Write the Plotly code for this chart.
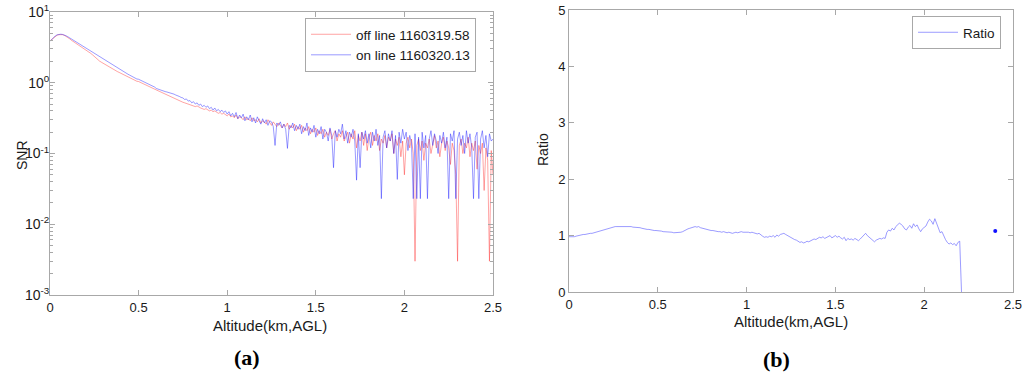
import plotly.graph_objects as go

# ---------------- data ----------------
altitude_km = [round(0.01 * i, 2) for i in range(251)]

snr_off = [
    3.9, 4.1, 4.35, 4.55, 4.7, 4.78, 4.8, 4.78, 4.7, 4.55,
    4.4, 4.2, 4.0, 3.85, 3.7, 3.55, 3.45, 3.35, 3.2, 3.05,
    3.0, 2.85, 2.72, 2.6, 2.48, 2.35, 2.22, 2.1, 2.02, 1.95,
    1.88, 1.82, 1.76, 1.70, 1.64, 1.58, 1.53, 1.49, 1.44, 1.40,
    1.36, 1.32, 1.28, 1.24, 1.20, 1.17, 1.14, 1.11, 1.08, 1.05,
    1.04, 1.01, 0.98, 0.95, 0.92, 0.90, 0.87, 0.85, 0.83, 0.81,
    0.79, 0.77, 0.75, 0.73, 0.71, 0.69, 0.67, 0.65, 0.63, 0.61,
    0.60, 0.58, 0.57, 0.55, 0.54, 0.53, 0.52, 0.51, 0.50, 0.49,
    0.48, 0.47, 0.46, 0.47, 0.45, 0.44, 0.43, 0.42, 0.43, 0.41,
    0.40, 0.41, 0.39, 0.40, 0.38, 0.37, 0.38, 0.36, 0.37, 0.35,
    0.34, 0.36, 0.33, 0.34, 0.32, 0.35, 0.31, 0.33, 0.32, 0.30,
    0.33, 0.30, 0.31, 0.29, 0.32, 0.29, 0.30, 0.28, 0.31, 0.27,
    0.29, 0.28, 0.26, 0.30, 0.27, 0.25, 0.28, 0.26, 0.24, 0.27,
    0.25, 0.23, 0.26, 0.24, 0.27, 0.22, 0.25, 0.23, 0.26, 0.21,
    0.24, 0.22, 0.25, 0.20, 0.23, 0.21, 0.24, 0.19, 0.22, 0.20,
    0.23, 0.18, 0.21, 0.19, 0.22, 0.17, 0.20, 0.18, 0.22, 0.16,
    0.19, 0.21, 0.15, 0.19, 0.17, 0.21, 0.15, 0.18, 0.20, 0.14,
    0.19, 0.16, 0.21, 0.12, 0.18, 0.15, 0.20, 0.13, 0.19, 0.11,
    0.17, 0.20, 0.13, 0.18, 0.15, 0.19, 0.11, 0.16, 0.14, 0.18,
    0.12, 0.17, 0.15, 0.19, 0.10, 0.16, 0.13, 0.17, 0.09, 0.15,
    0.05, 0.14, 0.17, 0.12, 0.16, 0.10, 0.003, 0.13, 0.16, 0.11,
    0.15, 0.08, 0.14, 0.12, 0.16, 0.10, 0.14, 0.18, 0.12, 0.15,
    0.09, 0.14, 0.17, 0.11, 0.15, 0.12, 0.07, 0.14, 0.11, 0.05,
    0.003, 0.13, 0.16, 0.10, 0.14, 0.12, 0.17, 0.09, 0.14, 0.11,
    0.15, 0.06, 0.13, 0.10, 0.14, 0.03, 0.12, 0.08, 0.003, 0.11,
    0.05,
]

snr_on = [
    3.85, 4.1, 4.4, 4.6, 4.75, 4.82, 4.85, 4.82, 4.75, 4.62,
    4.48, 4.32, 4.15, 4.0, 3.85, 3.72, 3.6, 3.48, 3.36, 3.24,
    3.12, 3.0, 2.9, 2.8, 2.7, 2.6, 2.5, 2.4, 2.32, 2.24,
    2.16, 2.08, 2.01, 1.94, 1.87, 1.80, 1.74, 1.68, 1.62, 1.56,
    1.51, 1.46, 1.41, 1.36, 1.32, 1.28, 1.24, 1.20, 1.16, 1.13,
    1.12, 1.09, 1.06, 1.03, 0.99, 0.97, 0.94, 0.91, 0.89, 0.87,
    0.83, 0.81, 0.79, 0.77, 0.76, 0.75, 0.74, 0.73, 0.71, 0.70,
    0.69, 0.67, 0.66, 0.64, 0.62, 0.61, 0.58, 0.59, 0.55, 0.56,
    0.52, 0.54, 0.50, 0.52, 0.48, 0.50, 0.46, 0.48, 0.45, 0.47,
    0.43, 0.45, 0.41, 0.44, 0.40, 0.42, 0.39, 0.41, 0.38, 0.40,
    0.36, 0.39, 0.34, 0.37, 0.33, 0.38, 0.31, 0.35, 0.32, 0.36,
    0.29, 0.33, 0.30, 0.35, 0.28, 0.32, 0.27, 0.33, 0.29, 0.26,
    0.31, 0.27, 0.30, 0.25, 0.29, 0.28, 0.24, 0.13, 0.27, 0.25,
    0.28, 0.23, 0.26, 0.22, 0.118, 0.25, 0.23, 0.27, 0.21, 0.25,
    0.22, 0.26, 0.19, 0.24, 0.21, 0.27, 0.18, 0.23, 0.20, 0.25,
    0.17, 0.22, 0.19, 0.24, 0.16, 0.22, 0.20, 0.15, 0.23, 0.18,
    0.063, 0.21, 0.17, 0.22, 0.19, 0.26, 0.16, 0.21, 0.14, 0.20,
    0.17, 0.22, 0.15, 0.042, 0.19, 0.063, 0.20, 0.16, 0.21, 0.14,
    0.19, 0.12, 0.20, 0.15, 0.22, 0.13, 0.18, 0.023, 0.17, 0.21,
    0.12, 0.19, 0.15, 0.21, 0.10, 0.18, 0.043, 0.20, 0.14, 0.22,
    0.16, 0.20, 0.11, 0.18, 0.14, 0.023, 0.19, 0.023, 0.17, 0.023,
    0.20, 0.12, 0.18, 0.023, 0.16, 0.21, 0.13, 0.19, 0.15, 0.10,
    0.18, 0.14, 0.20, 0.12, 0.17, 0.023, 0.19, 0.15, 0.21, 0.023,
    0.16, 0.20, 0.13, 0.18, 0.10, 0.21, 0.14, 0.19, 0.12, 0.023,
    0.17, 0.20, 0.023, 0.16, 0.21, 0.12, 0.18, 0.09, 0.19, 0.15,
    0.16,
]

ratio = [
    0.98, 0.98, 0.97, 0.98, 0.99, 1.00, 1.01, 1.01, 1.02, 1.02,
    1.03, 1.03, 1.04, 1.04, 1.05, 1.06, 1.07, 1.08, 1.09, 1.10,
    1.11, 1.12, 1.13, 1.14, 1.15, 1.15, 1.16, 1.16, 1.16, 1.16,
    1.17, 1.16, 1.16, 1.17, 1.16, 1.16, 1.15, 1.15, 1.15, 1.14,
    1.14, 1.13, 1.12, 1.12, 1.11, 1.11, 1.10, 1.10, 1.09, 1.09,
    1.09, 1.08, 1.08, 1.07, 1.07, 1.07, 1.06, 1.06, 1.06, 1.05,
    1.05, 1.05, 1.05, 1.06, 1.07, 1.09, 1.10, 1.12, 1.13, 1.14,
    1.15, 1.16, 1.15, 1.16, 1.14, 1.13, 1.12, 1.12, 1.11, 1.10,
    1.09, 1.09, 1.08, 1.08, 1.07, 1.07, 1.06, 1.07, 1.06, 1.05,
    1.06, 1.05, 1.04, 1.05, 1.06, 1.05, 1.06, 1.07, 1.06, 1.06,
    1.07, 1.06, 1.05, 1.06, 1.05, 1.04, 1.03, 1.04, 1.01, 0.99,
    0.97, 0.98, 0.97, 0.99, 0.98, 1.00, 0.97, 1.01, 0.99, 1.02,
    1.03, 1.04, 1.02, 1.00, 0.98, 0.96, 0.95, 0.93, 0.92, 0.90,
    0.88, 0.89, 0.87, 0.88, 0.90, 0.89, 0.91, 0.92, 0.94, 0.93,
    0.95, 0.97, 0.96, 0.98, 0.95, 0.97, 0.99, 1.00, 0.96, 0.98,
    1.00, 0.97, 0.99, 0.96, 0.94, 0.97, 0.91, 0.95, 0.93, 0.94,
    0.92, 0.95, 0.93, 0.91, 0.94, 0.98, 1.01, 1.04, 1.00, 0.97,
    0.94, 0.91, 0.89, 0.92, 0.93, 0.95, 0.94, 0.96, 0.95, 1.06,
    1.10, 1.08, 1.13, 1.10, 1.16, 1.19, 1.22, 1.20, 1.17, 1.12,
    1.10, 1.15, 1.18, 1.13, 1.21, 1.16, 1.19, 1.12, 1.07, 1.12,
    1.15, 1.17, 1.24, 1.29, 1.26, 1.20, 1.30, 1.22, 1.14, 1.05,
    1.07, 0.98, 0.93, 0.88, 0.85, 0.87, 0.84, 0.86, 0.82, 0.88,
    0.90, 0.0,
]

isolated_alt = [2.40]
isolated_ratio = [1.08]

x_ticks = [0, 0.5, 1, 1.5, 2, 2.5]
x_ticktext = ["0", "0.5", "1", "1.5", "2", "2.5"]
snr_ticks = [0.001, 0.01, 0.1, 1, 10]
snr_ticktext = ["10<sup>-3</sup>", "10<sup>-2</sup>", "10<sup>-1</sup>", "10<sup>0</sup>", "10<sup>1</sup>"]
ratio_ticks = [0, 1, 2, 3, 4, 5]

# ---------------- figure ----------------
W, H = 1024, 374


def px(x):
    return x / W


def py(y):
    return 1 - y / H


FONT = "Liberation Sans, Arial, sans-serif"
AXC = "#a8a8a8"
TXT = "#1a1a1a"

fig = go.Figure()

fig.add_trace(go.Scatter(
    x=altitude_km, y=snr_off, mode="lines", name="off line 1160319.58",
    line=dict(color="rgba(255,30,30,0.45)", width=0.9),
    xaxis="x", yaxis="y", legend="legend"))
fig.add_trace(go.Scatter(
    x=altitude_km, y=snr_on, mode="lines", name="on line 1160320.13",
    line=dict(color="rgba(30,30,255,0.5)", width=0.9),
    xaxis="x", yaxis="y", legend="legend"))

fig.add_trace(go.Scatter(
    x=altitude_km[:len(ratio)], y=ratio, mode="lines", name="Ratio",
    line=dict(color="rgba(90,90,255,0.6)", width=1),
    xaxis="x2", yaxis="y2", legend="legend2"))
fig.add_trace(go.Scatter(
    x=isolated_alt, y=isolated_ratio, mode="markers", showlegend=False,
    marker=dict(color="#1010ff", size=4),
    xaxis="x2", yaxis="y2"))

axis_common = dict(
    showline=True, linecolor=AXC, linewidth=1, mirror="ticks",
    ticks="inside", ticklen=5, tickcolor=AXC, showgrid=False, zeroline=False,
    automargin=False, ticklabeloverflow="allow",
)
tf = dict(family=FONT, size=13, color=TXT)

fig.update_layout(
    width=W, height=H,
    margin=dict(l=0, r=0, t=0, b=0, autoexpand=False),
    paper_bgcolor="white", plot_bgcolor="white",
    font=dict(family=FONT, size=13, color=TXT),
    xaxis=dict(domain=[px(50), px(493)], range=[0, 2.5], tickvals=x_ticks,
               ticktext=x_ticktext, anchor="y", tickfont=tf, **axis_common),
    yaxis=dict(domain=[py(295), py(12)], type="log", range=[-3, 1],
               tickvals=snr_ticks, ticktext=snr_ticktext, anchor="x",
               tickfont=dict(family=FONT, size=14, color=TXT),
               ticklabelstandoff=-3,
               minor=dict(ticks="inside", ticklen=3, tickcolor=AXC,
                          tickvals=[m * 10 ** e for e in range(-3, 1) for m in range(2, 10)]),
               **axis_common),
    xaxis2=dict(domain=[px(569), px(1013)], range=[0, 2.5], tickvals=x_ticks,
                ticktext=x_ticktext, anchor="y2", tickfont=tf, **axis_common),
    yaxis2=dict(domain=[py(292), py(10)], range=[0, 5],
                tickvals=ratio_ticks, anchor="x2", tickfont=tf, **axis_common),
    legend=dict(x=px(476), y=py(18), xanchor="right", yanchor="top",
                bgcolor="white", bordercolor=AXC, borderwidth=1,
                font=dict(family=FONT, size=13.5, color=TXT),
                tracegroupgap=0, itemwidth=40),
    legend2=dict(x=px(1001), y=py(16), xanchor="right", yanchor="top",
                 bgcolor="white", bordercolor=AXC, borderwidth=1,
                 font=dict(family=FONT, size=13.5, color=TXT), itemwidth=40),
    showlegend=True,
)

annots = [
    dict(text="SNR", x=px(22), y=py(155), textangle=-90, font=dict(size=14)),
    dict(text="Ratio", x=px(543), y=py(150), textangle=-90, font=dict(size=14)),
    dict(text="Altitude(km,AGL)", x=px(270), y=py(325), font=dict(size=15)),
    dict(text="Altitude(km,AGL)", x=px(791), y=py(321), font=dict(size=15)),
    dict(text="<b>(a)</b>", x=px(247), y=py(357),
         font=dict(family="Liberation Serif, Times New Roman, serif", size=22, color="#000")),
    dict(text="<b>(b)</b>", x=px(776), y=py(359),
         font=dict(family="Liberation Serif, Times New Roman, serif", size=22, color="#000")),
]
for a in annots:
    fig.add_annotation(xref="paper", yref="paper", showarrow=False,
                       xanchor="center", yanchor="middle", **a)

# Remove the browser's default 8px body margin so the figure fills the window.
fig.write_html("out.html", config={"displayModeBar": False},
               post_script="document.body.style.margin='0';")
